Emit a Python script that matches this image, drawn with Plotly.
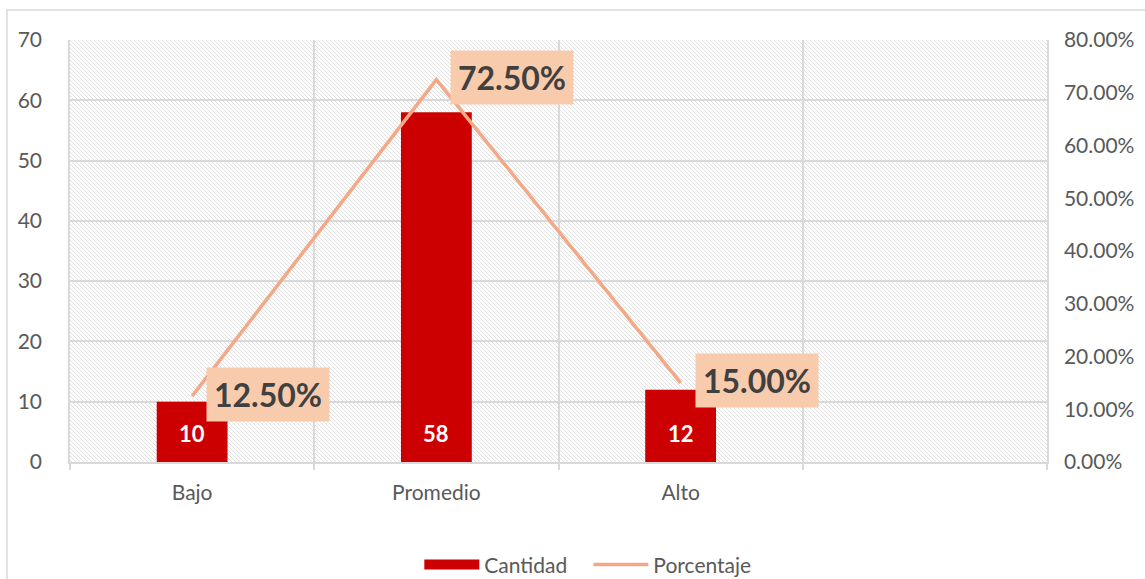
import plotly.graph_objects as go

categories = ["Bajo", "Promedio", "Alto"]
cantidad = [10, 58, 12]
porcentaje = [0.125, 0.725, 0.15]
porcentaje_labels = ["12.50%", "72.50%", "15.00%"]
x_slots = ["Bajo", "Promedio", "Alto", " "]

FONT = "Lato"
GRID = "#d9d9d9"
TXT = "#595959"
RED = "#cc0000"

fig = go.Figure()

fig.add_trace(go.Bar(
    x=categories, y=cantidad, name="Cantidad",
    marker=dict(color=RED, line=dict(width=0)),
    width=0.29, showlegend=False, legendgroup="cant",
))
# legend entry drawn as a wide swatch (no data of its own)
fig.add_trace(go.Scatter(
    x=[None], y=[None], name="Cantidad   ", mode="lines",
    line=dict(color=RED, width=13), legendgroup="cant", hoverinfo="skip",
))

for c, v in zip(categories, cantidad):
    fig.add_annotation(
        x=c, y=0, xref="x", yref="y", text="<b>%d</b>" % v,
        showarrow=False, xanchor="center", yanchor="middle", yshift=29,
        font=dict(family=FONT, size=22, color="white"),
    )

fig.add_trace(go.Scatter(
    x=categories, y=porcentaje, name="Porcentaje", yaxis="y2",
    mode="lines", line=dict(color="#f4a886", width=3.5),
))

for c, p, lab in zip(categories, porcentaje, porcentaje_labels):
    fig.add_annotation(
        x=c, y=p, xref="x", yref="y2", text="<b>%s</b>" % lab,
        showarrow=False, xanchor="left", yanchor="middle", xshift=14, yshift=2,
        bgcolor="#f8cbad", borderpad=7,
        font=dict(family=FONT, size=32, color="#404040"),
    )

pw, ph = 977, 422
svg = (
    "<svg xmlns='http://www.w3.org/2000/svg' width='%d' height='%d' shape-rendering='crispEdges'>"
    "<defs><pattern id='p' width='4' height='4' patternUnits='userSpaceOnUse'>"
    "<rect x='0' y='0' width='1' height='1' fill='%%23dfdfdf'/>"
    "<rect x='1' y='1' width='1' height='1' fill='%%23dfdfdf'/>"
    "<rect x='2' y='2' width='1' height='1' fill='%%23dfdfdf'/>"
    "<rect x='3' y='3' width='1' height='1' fill='%%23dfdfdf'/>"
    "</pattern></defs><rect width='100%%' height='100%%' fill='white'/>"
    "<rect width='100%%' height='100%%' fill='url(%%23p)'/></svg>" % (pw, ph)
)
fig.add_layout_image(dict(
    source="data:image/svg+xml;utf8," + svg,
    xref="paper", yref="paper", x=0, y=1, sizex=1, sizey=1,
    xanchor="left", yanchor="top", sizing="stretch", layer="below",
))

fig.add_shape(type="rect", xref="paper", yref="paper",
              x0=-0.0645, x1=1.12, y0=-0.32, y1=1.071,
              line=dict(color="#d9d9d9", width=1.5), layer="below")

fig.update_layout(
    width=1145, height=579,
    margin=dict(l=70, r=98, t=40, b=117, autoexpand=False),
    paper_bgcolor="white", plot_bgcolor="white",
    font=dict(family=FONT, color=TXT),
    showlegend=True,
    legend=dict(orientation="h", x=0.53, xanchor="center", y=-0.244, yanchor="middle",
                itemwidth=55, traceorder="normal",
                font=dict(family=FONT, size=21, color=TXT)),
    xaxis=dict(
        type="category", categoryorder="array", categoryarray=x_slots,
        range=[-0.5, 3.5], tickson="boundaries", automargin=False,
        showgrid=True, gridcolor=GRID, gridwidth=1.5,
        showline=True, linecolor=GRID, linewidth=1.5,
        ticks="outside", ticklen=6, tickcolor=GRID, tickwidth=1.5,
        tickfont=dict(family=FONT, size=21, color=TXT),
        ticklabelstandoff=11,
        zeroline=False,
    ),
    yaxis=dict(
        range=[0, 70], dtick=10, showgrid=True, gridcolor=GRID, gridwidth=1.5,
        showline=True, linecolor=GRID, linewidth=1.5, automargin=False,
        tickfont=dict(family=FONT, size=21, color=TXT), zeroline=False,
        ticklabelstandoff=22,
    ),
    yaxis2=dict(
        overlaying="y", side="right", range=[0, 0.8], dtick=0.1,
        tickformat=".2%", showgrid=False, zeroline=False,
        showline=True, linecolor=GRID, linewidth=1.5, automargin=False,
        tickfont=dict(family=FONT, size=21, color=TXT),
        ticklabelstandoff=11,
    ),
)

fig.write_html("out.html", config={"displayModeBar": False},
               post_script="document.body.style.margin='0';document.body.style.overflow='hidden';")
